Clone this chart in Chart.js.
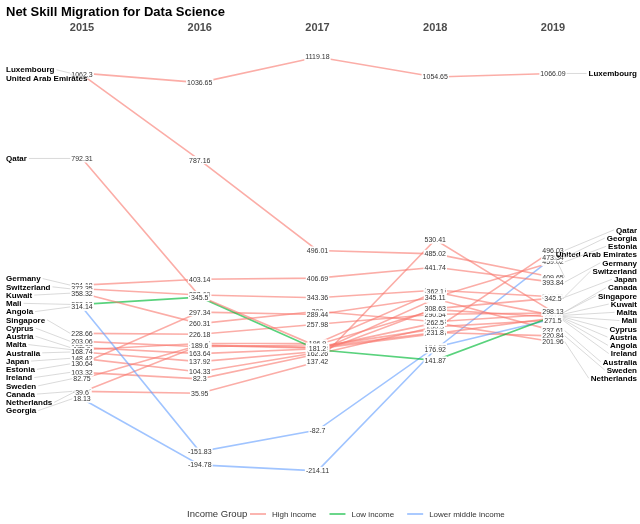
<!DOCTYPE html>
<html>
<head>
<meta charset="utf-8">
<script src="https://cdn.jsdelivr.net/npm/chart.js@4/dist/chart.umd.min.js"></script>
<style>
  body { margin: 0; background: #fff; }
</style>
</head>
<body>
<canvas id="chart" width="640" height="524"></canvas>
<script>
const years = ['2015', '2016', '2017', '2018', '2019'];
const countries = ['Luxembourg', 'United Arab Emirates', 'Qatar', 'Germany', 'Switzerland', 'Kuwait',
  'Mali', 'Angola', 'Singapore', 'Cyprus', 'Austria', 'Malta', 'Australia', 'Japan', 'Estonia',
  'Ireland', 'Sweden', 'Canada', 'Netherlands', 'Georgia'];
const incomeGroup = ['High income', 'High income', 'High income', 'High income', 'High income', 'High income',
  'Low income', 'Lower middle income', 'High income', 'High income', 'High income', 'High income', 'High income',
  'High income', 'High income', 'High income', 'High income', 'High income', 'High income', 'Lower middle income'];
const v2015 = [1067.2, 1062.3, 792.31, 384.18, 372.35, 358.32, 322.12, 314.14, 228.66, 203.06,
  183.27, 175.9, 168.74, 148.42, 130.64, 103.32, 82.75, 41.97, 39.6, 18.13];
const v2016 = [1036.65, 787.16, 348.2, 403.14, 352.69, 260.31, 345.5, -151.83, 226.18, 185.71,
  163.64, 196.37, 137.92, 104.33, 297.34, 82.3, 191.2, 35.95, 189.6, -194.78];
const v2017 = [1119.18, 496.01, 186.33, 406.69, 343.36, 300, 176.16, -82.7, 257.98, 192.4,
  179.18, 196.9, 170.5, 166.9, 289.44, 162.26, 183.7, 137.42, 181.2, -214.11];
const v2018 = [1054.65, 485.02, 243.2, 441.74, 367.55, 266.08, 141.87, 184.27, 290.54, 305.4,
  227.96, 362.1, 340.2, 308.63, 345.11, 250.3, 231.8, 530.41, 262.5, 176.92];
const v2019 = [1066.09, 409.65, 496.03, 393.84, 346.81, 290.2, 283.3, 275.1, 294.5, 281.8,
  278.6, 286.8, 237.61, 342.5, 459.02, 271.5, 220.84, 298.13, 201.96, 473.34];
const groups = ['High income', 'Low income', 'Lower middle income'];
const groupColors = ['rgba(248,118,109,0.6)', 'rgba(0,186,56,0.65)', 'rgba(97,156,255,0.6)'];

const series = [v2015, v2016, v2017, v2018, v2019];
const datasets = countries.map((name, i) => ({
  label: name,
  data: series.map(s => s[i]),
  borderColor: groupColors[groups.indexOf(incomeGroup[i])],
  borderWidth: 1.6,
  pointRadius: 0,
  tension: 0,
  fill: false
}));

const valueFont = '7px "Liberation Sans", Arial, sans-serif';
const nameFont = 'bold 8px "Liberation Sans", Arial, sans-serif';

// spread names vertically so they don't overlap (rough ggrepel)
function spread(targets, gap) {
  const order = targets.map((t, i) => i).sort((a, b) => targets[a] - targets[b]);
  let blocks = order.map(i => ({ ids: [i], sum: targets[i] }));
  let changed = true;
  const pos = b => b.sum / b.ids.length - (b.ids.length - 1) * gap / 2;
  while (changed) {
    changed = false;
    for (let k = 0; k < blocks.length - 1; k++) {
      const a = blocks[k], b = blocks[k + 1];
      if (pos(a) + a.ids.length * gap > pos(b)) {
        blocks.splice(k, 2, { ids: a.ids.concat(b.ids), sum: a.sum + b.sum });
        changed = true;
        break;
      }
    }
  }
  const out = [];
  blocks.forEach(b => b.ids.forEach((id, j) => { out[id] = pos(b) + j * gap; }));
  return out;
}

const slopeLabels = {
  id: 'slopeLabels',
  afterDatasetsDraw(chart) {
    const ctx = chart.ctx;
    ctx.save();
    // value labels
    ctx.font = valueFont;
    ctx.textAlign = 'center';
    ctx.textBaseline = 'middle';
    chart.data.datasets.forEach((ds, di) => {
      chart.getDatasetMeta(di).data.forEach((pt, i) => {
        const txt = String(ds.data[i]);
        const w = ctx.measureText(txt).width;
        ctx.fillStyle = '#fff';
        ctx.fillRect(pt.x - w / 2 - 1, pt.y - 4, w + 2, 8);
        ctx.fillStyle = '#333';
        ctx.fillText(txt, pt.x, pt.y + 0.5);
      });
    });
    // country names on both sides
    const sides = [{ idx: 0, dir: -1 }, { idx: 4, dir: 1 }];
    sides.forEach(side => {
      const pts = chart.data.datasets.map((ds, di) => chart.getDatasetMeta(di).data[side.idx]);
      const ys = spread(pts.map(p => p.y), 8.25);
      pts.forEach((p, di) => {
        const name = chart.data.datasets[di].label;
        const val = String(chart.data.datasets[di].data[side.idx]);
        ctx.font = valueFont;
        const vw = ctx.measureText(val).width;
        ctx.font = nameFont;
        const nw = ctx.measureText(name).width;
        let nx, lx0, lx1;
        if (side.dir < 0) {
          nx = 6; lx0 = nx + nw + 2; lx1 = p.x - vw / 2 - 1;
        } else {
          nx = 637 - nw; lx0 = nx - 2; lx1 = p.x + vw / 2 + 1;
        }
        ctx.strokeStyle = '#d0d0d0';
        ctx.lineWidth = 0.8;
        ctx.beginPath();
        ctx.moveTo(lx0, ys[di]);
        ctx.lineTo(lx1, p.y);
        ctx.stroke();
        ctx.fillStyle = '#000';
        ctx.textAlign = 'left';
        ctx.fillText(name, nx, ys[di] + 0.5);
      });
    });
    // title
    ctx.font = 'bold 13px "Liberation Sans", Arial, sans-serif';
    ctx.fillStyle = '#000';
    ctx.textAlign = 'left';
    ctx.fillText('Net Skill Migration for Data Science', 6, 12);
    // legend
    ctx.font = '9.5px "Liberation Sans", Arial, sans-serif';
    ctx.fillStyle = '#333';
    ctx.fillText('Income Group', 187, 514);
    let x = 250;
    ctx.font = '8px "Liberation Sans", Arial, sans-serif';
    groups.forEach((g, gi) => {
      ctx.strokeStyle = groupColors[gi];
      ctx.lineWidth = 1.8;
      ctx.beginPath();
      ctx.moveTo(x, 514);
      ctx.lineTo(x + 16, 514);
      ctx.stroke();
      ctx.fillStyle = '#333';
      ctx.fillText(g, x + 22, 514.5);
      x += 22 + ctx.measureText(g).width + 13;
    });
    ctx.restore();
  }
};

new Chart(document.getElementById('chart'), {
  type: 'line',
  data: { labels: years, datasets: datasets },
  options: {
    responsive: false,
    animation: false,
    devicePixelRatio: 1,
    layout: { padding: { left: 82, right: 87, top: 9, bottom: 42 } },
    plugins: { legend: { display: false }, tooltip: { enabled: false } },
    scales: {
      x: {
        position: 'top',
        offset: false,
        grid: { display: false, drawTicks: false },
        border: { display: false },
        ticks: { color: '#4d4d4d', padding: 12, font: { size: 11, weight: 'bold', family: '"Liberation Sans", Arial, sans-serif' } }
      },
      y: { display: false, min: -250, max: 1154 }
    }
  },
  plugins: [slopeLabels]
});
</script>
</body>
</html>
